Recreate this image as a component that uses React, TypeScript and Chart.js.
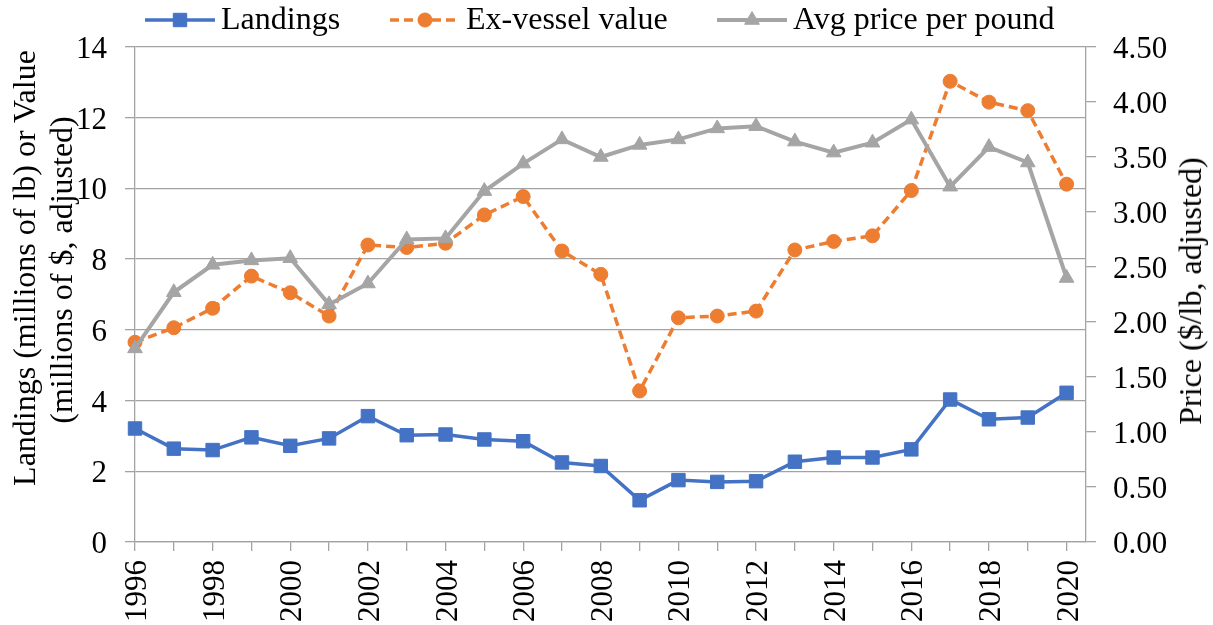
import React, { useEffect, useRef, useState } from 'react';
import { Chart, registerables } from 'chart.js';

Chart.register(...registerables);

const years = [1996, 1997, 1998, 1999, 2000, 2001, 2002, 2003, 2004, 2005, 2006, 2007, 2008, 2009, 2010, 2011, 2012, 2013, 2014, 2015, 2016, 2017, 2018, 2019, 2020];
const landings = [3.21, 2.64, 2.6, 2.96, 2.72, 2.93, 3.56, 3.02, 3.04, 2.9, 2.85, 2.25, 2.15, 1.18, 1.75, 1.7, 1.72, 2.27, 2.39, 2.39, 2.62, 4.03, 3.47, 3.52, 4.22];
const exVessel = [5.65, 6.06, 6.61, 7.52, 7.05, 6.39, 8.4, 8.33, 8.45, 9.25, 9.77, 8.23, 7.57, 4.27, 6.34, 6.39, 6.53, 8.26, 8.5, 8.66, 9.94, 13.03, 12.44, 12.2, 10.12];
const avgPrice = [1.76, 2.27, 2.52, 2.56, 2.58, 2.16, 2.35, 2.75, 2.76, 3.19, 3.44, 3.66, 3.5, 3.61, 3.66, 3.76, 3.78, 3.64, 3.54, 3.63, 3.84, 3.23, 3.59, 3.45, 2.4];
const yearLabels = ['1996', '1998', '2000', '2002', '2004', '2006', '2008', '2010', '2012', '2014', '2016', '2018', '2020'];
const leftTicks = [0, 2, 4, 6, 8, 10, 12, 14];
const rightTicks = [0, 0.5, 1, 1.5, 2, 2.5, 3, 3.5, 4, 4.5];
const seriesNames = ['Landings', 'Ex-vessel value', 'Avg price per pound'];
const leftTitle = ['Landings (millions of lb) or Value', '(millions of $, adjusted)'];
const rightTitle = 'Price ($/lb, adjusted)';

const FONT = '"Liberation Serif", "Times New Roman", serif';
const GRID = '#a3a3a3';
const BLUE = '#4472C4';
const ORANGE = '#ED7D31';
const GRAY = '#A5A5A5';
const LEGEND_X = [145, 390, 717];
const LEGEND_LINE = 70;

type Sty = { color: string; dash: number[]; shape: string; r: number; lw: number };
const styles: Sty[] = [
  { color: BLUE, dash: [], shape: 'rect', r: 9.5, lw: 3.5 },
  { color: ORANGE, dash: [9, 5], shape: 'circle', r: 7, lw: 3.5 },
  { color: GRAY, dash: [], shape: 'triangle', r: 8.5, lw: 4 },
];

function marker(ctx: CanvasRenderingContext2D, shape: string, x: number, y: number, r: number, color: string) {
  ctx.save();
  ctx.setLineDash([]);
  ctx.fillStyle = color;
  ctx.strokeStyle = color;
  ctx.lineWidth = 1;
  ctx.beginPath();
  if (shape === 'rect') {
    const s = Math.SQRT1_2 * r;
    ctx.rect(x - s, y - s, 2 * s, 2 * s);
  } else if (shape === 'circle') {
    ctx.arc(x, y, r, 0, Math.PI * 2);
  } else {
    let a = 0;
    ctx.moveTo(x + Math.sin(a) * r, y - Math.cos(a) * r);
    a += (2 * Math.PI) / 3;
    ctx.lineTo(x + Math.sin(a) * r, y - Math.cos(a) * r);
    a += (2 * Math.PI) / 3;
    ctx.lineTo(x + Math.sin(a) * r, y - Math.cos(a) * r);
    ctx.closePath();
  }
  ctx.fill();
  ctx.stroke();
  ctx.restore();
}

const legendSymbols = {
  id: 'legendSymbols',
  afterDraw(chart: any) {
    const ctx: CanvasRenderingContext2D = chart.ctx;
    const ly = 20;
    styles.forEach((st, i) => {
      const x = LEGEND_X[i];
      ctx.save();
      ctx.strokeStyle = st.color;
      ctx.lineWidth = st.lw;
      ctx.setLineDash(st.dash);
      ctx.beginPath();
      ctx.moveTo(x, ly);
      ctx.lineTo(x + LEGEND_LINE, ly);
      ctx.stroke();
      ctx.restore();
      marker(ctx, st.shape, x + LEGEND_LINE / 2, ly, st.r, st.color);
    });
  },
};

type Pos = {
  left: { t: string; x: number; y: number }[];
  right: { t: string; x: number; y: number }[];
  xs: { t: string; x: number; y: number }[];
};

const textBase: React.CSSProperties = {
  position: 'absolute',
  fontFamily: FONT,
  color: '#000',
  whiteSpace: 'nowrap',
  lineHeight: 1,
};

export default function App() {
  const ref = useRef<HTMLCanvasElement>(null);
  const [pos, setPos] = useState<Pos | null>(null);
  useEffect(() => {
    document.body.style.margin = '0';
    const canvas = ref.current;
    if (!canvas) return;
    const mk = (vals: number[]) => years.map((yr, i) => ({ x: yr, y: vals[i] }));
    const series = [landings, exVessel, avgPrice];
    const chart = new Chart(canvas, {
      type: 'line',
      data: {
        datasets: series.map((vals, i) => ({
          label: seriesNames[i],
          data: mk(vals),
          yAxisID: i === 2 ? 'y1' : 'y',
          borderColor: styles[i].color,
          backgroundColor: styles[i].color,
          borderWidth: styles[i].lw,
          borderDash: styles[i].dash,
          pointStyle: styles[i].shape,
          pointRadius: styles[i].r,
          pointBorderWidth: 1,
          pointBackgroundColor: styles[i].color,
          pointBorderColor: styles[i].color,
          tension: 0,
          fill: false,
          clip: false as any,
          order: 3 - i,
        })),
      },
      options: {
        responsive: false,
        animation: false,
        devicePixelRatio: 1,
        layout: { padding: { top: 47, left: 0, right: 0, bottom: 0 } },
        plugins: { legend: { display: false }, tooltip: { enabled: false } },
        scales: {
          x: {
            type: 'linear',
            min: 1996,
            max: 2020.5,
            afterBuildTicks: (s: any) => {
              s.ticks = years.map((v) => ({ value: v }));
            },
            afterFit: (s: any) => {
              s.height = 83;
            },
            ticks: { display: false },
            grid: { drawOnChartArea: false, drawTicks: true, tickLength: 9, color: GRID, lineWidth: 1.3 },
            border: { display: true, color: GRID, width: 1.3 },
          },
          y: {
            position: 'left',
            min: 0,
            max: 14,
            afterBuildTicks: (s: any) => {
              s.ticks = leftTicks.map((v) => ({ value: v }));
            },
            afterFit: (s: any) => {
              s.width = 135;
            },
            ticks: { display: false },
            grid: { color: GRID, lineWidth: 1.3, tickLength: 10, drawTicks: true },
            border: { display: true, color: GRID, width: 1.3 },
          },
          y1: {
            position: 'right',
            min: 0,
            max: 4.5,
            afterBuildTicks: (s: any) => {
              s.ticks = rightTicks.map((v) => ({ value: v }));
            },
            afterFit: (s: any) => {
              s.width = 127;
            },
            ticks: { display: false },
            grid: { drawOnChartArea: false, color: GRID, lineWidth: 1.3, tickLength: 10, drawTicks: true },
            border: { display: true, color: GRID, width: 1.3 },
          },
        },
      } as any,
      plugins: [legendSymbols],
    });
    const sx: any = chart.scales.x;
    const sy: any = chart.scales.y;
    const sy1: any = chart.scales.y1;
    setPos({
      left: leftTicks.map((v) => ({ t: String(v), x: sy.right - 10 - 18, y: sy.getPixelForValue(v) })),
      right: rightTicks.map((v) => ({ t: v.toFixed(2), x: sy1.left + 10 + 17, y: sy1.getPixelForValue(v) })),
      xs: yearLabels.map((l) => ({ t: l, x: sx.getPixelForValue(Number(l)), y: sx.top + 9 + 9 })),
    });
    return () => chart.destroy();
  }, []);

  const TICK = 31;
  const TT = 32;
  return (
    <div style={{ width: 1213, height: 625, background: '#fff', position: 'relative', overflow: 'hidden' }}>
      <canvas ref={ref} width={1213} height={625} style={{ display: 'block' }} />
      {pos &&
        pos.left.map((p) => (
          <span key={'l' + p.t} style={{ ...textBase, fontSize: TICK, left: p.x, top: p.y, transform: 'translate(-100%, -50%)' }}>
            {p.t}
          </span>
        ))}
      {pos &&
        pos.right.map((p) => (
          <span key={'r' + p.t} style={{ ...textBase, fontSize: TICK, left: p.x, top: p.y, transform: 'translate(0, -50%)' }}>
            {p.t}
          </span>
        ))}
      {pos &&
        pos.xs.map((p) => (
          <span
            key={'x' + p.t}
            style={{ ...textBase, fontSize: TICK, left: p.x, top: p.y, transformOrigin: '0 0', transform: 'rotate(-90deg) translate(-100%, -50%)' }}
          >
            {p.t}
          </span>
        ))}
      {seriesNames.map((n, i) => (
        <span key={'lg' + i} style={{ ...textBase, fontSize: 32, left: LEGEND_X[i] + LEGEND_LINE + 6, top: 2 }}>
          {n}
        </span>
      ))}
      <span style={{ ...textBase, fontSize: TT, left: 24, top: 268, transform: 'translate(-50%, -50%) rotate(-90deg)' }}>{leftTitle[0]}</span>
      <span style={{ ...textBase, fontSize: TT, left: 61, top: 270, transform: 'translate(-50%, -50%) rotate(-90deg)' }}>{leftTitle[1]}</span>
      <span style={{ ...textBase, fontSize: TT, left: 1190, top: 291, transform: 'translate(-50%, -50%) rotate(-90deg)' }}>{rightTitle}</span>
    </div>
  );
}
